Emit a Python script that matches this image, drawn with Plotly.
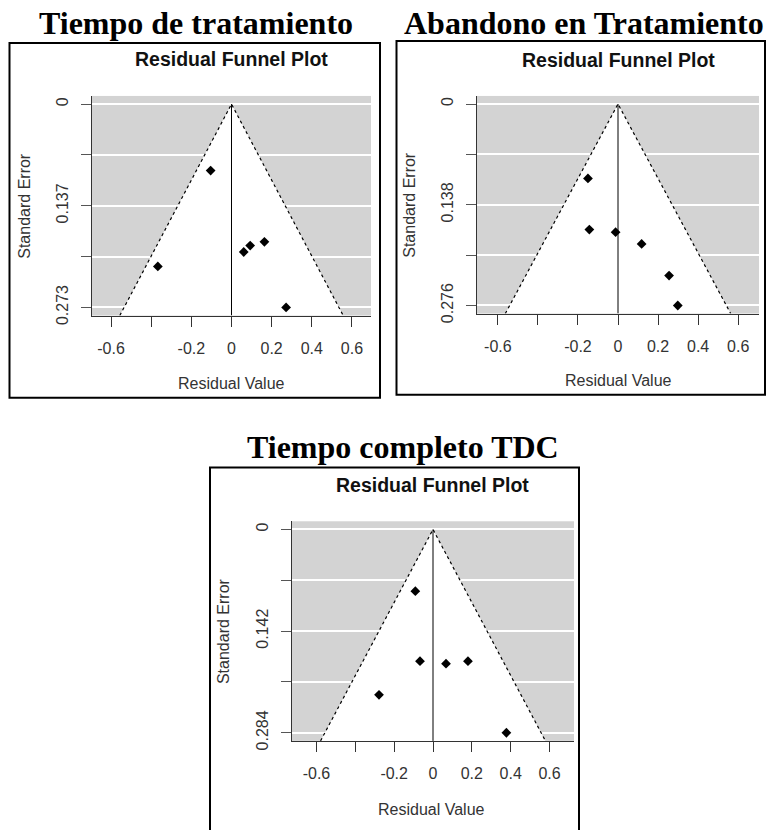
import plotly.graph_objects as go

W, H = 770, 830

# ---------------- data ----------------
titles = ["Tiempo de tratamiento", "Abandono en Tratamiento", "Tiempo completo TDC"]

res1 = [-0.104, -0.367, 0.061, 0.093, 0.164, 0.272]
se1 = [0.0893, 0.218, 0.1986, 0.190, 0.185, 0.273]

res2 = [-0.150, -0.143, -0.012, 0.118, 0.255, 0.2985]
se2 = [0.102, 0.172, 0.1756, 0.1916, 0.235, 0.276]

res3 = [-0.091, -0.067, 0.067, 0.180, -0.278, 0.378]
se3 = [0.0863, 0.184, 0.1876, 0.184, 0.231, 0.284]

max_se = [0.273, 0.276, 0.284]
x_lim = [0.695, 0.704, 0.726]

x_ticks = [-0.6, -0.4, -0.2, 0, 0.2, 0.4, 0.6]
x_ticklabels = ["-0.6", "", "-0.2", "0", "0.2", "0.4", "0.6"]

residuals = [res1, res2, res3]
std_errors = [se1, se2, se3]

# ---------------- layout geometry (pixels) ----------------
# plot area: (left, right, top, bottom)
areas = [(92, 371, 97, 319), (477, 759, 97, 317), (292, 574, 527, 749)]
boxes = [(9.5, 380, 43.5, 402), (396.5, 765, 41.5, 399), (210, 579, 472.5, 900)]
big_title_pos = [(196, 23), (584, 23), (402.5, 452)]
inner_title_pos = [(231.5, 60), (618.3, 61), (432.5, 490)]
ytitle_pos = [(25, 208), (410, 207), (223, 638)]
xtitle_pos = [(231.5, 388), (618, 385), (431.5, 818)]


def px(x):
    return x / W


def py(y):
    return 1 - y / H


fig = go.Figure()
annotations = []
shapes = []

for i in range(3):
    k = "" if i == 0 else str(i + 1)
    xa, ya = "x" + k, "y" + k
    m = max_se[i]
    ybot = m * 1.04
    ytop = -m * 0.04
    zx = 1.96 * ybot

    # white funnel region
    fig.add_trace(go.Scatter(x=[-zx, 0, zx, -zx], y=[ybot, 0, ybot, ybot], fill="toself",
                             fillcolor="white", mode="lines", line=dict(width=0),
                             xaxis=xa, yaxis=ya, showlegend=False, hoverinfo="skip"))
    # dotted funnel lines
    fig.add_trace(go.Scatter(x=[-zx, 0, zx], y=[ybot, 0, ybot], mode="lines",
                             line=dict(color="black", width=1.2, dash="dot"),
                             xaxis=xa, yaxis=ya, showlegend=False, hoverinfo="skip"))
    # vertical reference line
    fig.add_trace(go.Scatter(x=[0, 0], y=[0, ybot], mode="lines",
                             line=dict(color="black", width=1),
                             xaxis=xa, yaxis=ya, showlegend=False, hoverinfo="skip"))
    # points
    fig.add_trace(go.Scatter(x=residuals[i], y=std_errors[i], mode="markers",
                             marker=dict(symbol="diamond", size=7.5, color="black"),
                             xaxis=xa, yaxis=ya, showlegend=False))

    l, r, t, b = areas[i]
    yticks = [m * j / 4 for j in range(5)]
    ylabels = ["0", "", f"{m / 2:.3f}", "", f"{m:.3f}"]
    fig.layout["xaxis" + k] = dict(
        domain=[px(l), px(r)], anchor=ya, range=[-x_lim[i], x_lim[i]],
        tickvals=x_ticks, ticktext=x_ticklabels, ticks="outside", ticklen=10,
        tickcolor="#333", showgrid=False, zeroline=False, showline=True,
        linecolor="#333", linewidth=1, ticklabelstandoff=8,
        tickfont=dict(family="Liberation Sans, Arial", size=16, color="#333"))
    fig.layout["yaxis" + k] = dict(
        domain=[py(b), py(t)], anchor=xa, range=[ybot, ytop],
        tickvals=yticks, ticktext=ylabels, ticks="outside", ticklen=10,
        tickcolor="#555", showgrid=True, gridcolor="white", gridwidth=1.5,
        zeroline=False, showline=True, linecolor="#333", linewidth=1,
        tickangle=-90, ticklabelstandoff=7,
        tickfont=dict(family="Liberation Sans, Arial", size=16, color="#333"))

    bl, br, bt, bb = boxes[i]
    shapes.append(dict(type="rect", xref="paper", yref="paper",
                       x0=px(bl), x1=px(br), y0=py(bb), y1=py(bt),
                       line=dict(color="black", width=2), layer="above"))

    annotations.append(dict(text=f"<b>{titles[i]}</b>", xref="paper", yref="paper",
                            x=px(big_title_pos[i][0]), y=py(big_title_pos[i][1]),
                            xanchor="center", yanchor="middle", showarrow=False,
                            font=dict(family="Liberation Serif, Times New Roman", size=32,
                                      color="black")))
    annotations.append(dict(text="<b>Residual Funnel Plot</b>", xref="paper", yref="paper",
                            x=px(inner_title_pos[i][0]), y=py(inner_title_pos[i][1]),
                            xanchor="center", yanchor="middle", showarrow=False,
                            font=dict(family="Liberation Sans, Arial", size=19.5,
                                      color="#111")))
    annotations.append(dict(text="Standard Error", xref="paper", yref="paper",
                            x=px(ytitle_pos[i][0]), y=py(ytitle_pos[i][1]),
                            xanchor="center", yanchor="middle", showarrow=False,
                            textangle=-90,
                            font=dict(family="Liberation Sans, Arial", size=16,
                                      color="#333")))
    annotations.append(dict(text="Residual Value", xref="paper", yref="paper",
                            x=px(xtitle_pos[i][0]), y=py(xtitle_pos[i][1]),
                            xanchor="center", yanchor="middle", showarrow=False,
                            font=dict(family="Liberation Sans, Arial", size=16,
                                      color="#333")))

fig.update_layout(
    width=W, height=H, margin=dict(l=0, r=0, t=0, b=0),
    paper_bgcolor="white", plot_bgcolor="#d3d3d3",
    annotations=annotations, shapes=shapes, showlegend=False,
)

fig.write_html("out.html")
